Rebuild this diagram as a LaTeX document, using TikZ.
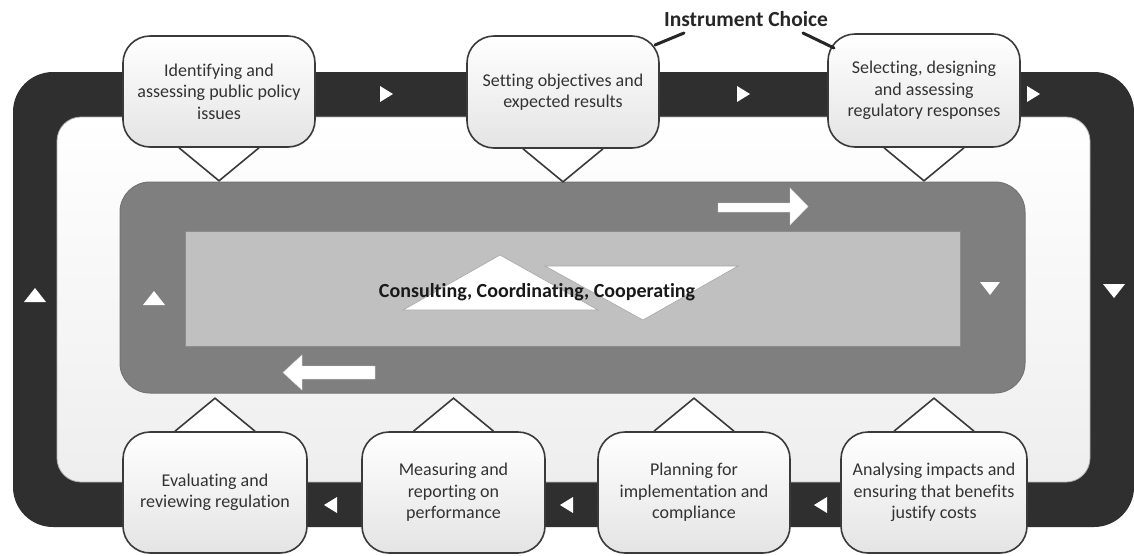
\documentclass[tikz,border=0pt]{standalone}
\usepackage{fontspec}
\setmainfont{Carlito}[Ligatures=NoCommon]
\usetikzlibrary{calc}
\definecolor{band}{HTML}{2F2F2F}
\definecolor{midgray}{HTML}{7F7F7F}
\definecolor{innergray}{HTML}{C0C0C0}
\definecolor{lightbot}{HTML}{EEEEEE}
\definecolor{boxbot}{HTML}{E4E4E4}
\definecolor{boxline}{HTML}{3A3A3A}
\definecolor{txt}{HTML}{333333}
\pgfdeclarelayer{bg}
\pgfdeclarelayer{mid}
\pgfsetlayers{bg,mid,main}
\begin{document}
\begin{tikzpicture}[x=1pt,y=-1pt,
  stepbox/.style={draw=boxline, line width=1.6pt, rounded corners=27pt,
    top color=white, bottom color=boxbot, text=txt, align=center,
    font=\fontsize{18}{21.5}\selectfont, inner sep=2pt},
  pointer/.style={fill=white},
  pointerline/.style={draw=boxline, line width=1.6pt, line join=miter},
  flowtip/.style={fill=white},
  bigarrow/.style={fill=white, draw=white!85!black, line width=0.4pt},
  centretri/.style={fill=white, draw=gray!70, line width=0.6pt},
  callout/.style={line width=3pt, black!85, line cap=round}]
\useasboundingbox (0,0) rectangle (1134,555);

% ---------------- boxes ----------------
\node[stepbox, minimum width=192pt, minimum height=111pt] (b1) at (219,91.5)
  {Identifying and\\assessing public policy\\issues};
\node[stepbox, minimum width=192pt, minimum height=112pt] (b2) at (563,92)
  {Setting objectives and\\expected results};
\node[stepbox, minimum width=192pt, minimum height=113pt] (b3) at (924,90.5)
  {Selecting, designing\\and assessing\\regulatory responses};
\node[stepbox, minimum width=186pt, minimum height=121pt] (b4) at (934,492.5)
  {Analysing impacts and\\ensuring that benefits\\justify costs};
\node[stepbox, minimum width=192pt, minimum height=121pt] (b5) at (694,492.5)
  {Planning for\\implementation and\\compliance};
\node[stepbox, minimum width=183pt, minimum height=121pt] (b6) at (453.5,492.5)
  {Measuring and\\reporting on\\performance};
\node[stepbox, minimum width=184pt, minimum height=121pt] (b7) at (215,492.5)
  {Evaluating and\\reviewing regulation};

\node[font=\fontsize{21.5}{24}\selectfont\bfseries, text=black!85, inner sep=0pt] (ic) at (746,19) {Instrument Choice};
\coordinate (icl) at (684,33);
\coordinate (icr) at (803,33);
\draw[callout] (icl) -- (655,45);
\draw[callout] (icr) -- (834,48);

% ---------------- background ----------------
\begin{pgfonlayer}{bg}
  \fill[band, rounded corners=40pt] (13,72) rectangle (1134,527);
  \filldraw[draw=gray!60, line width=0.8pt, top color=white, bottom color=lightbot, rounded corners=24pt]
    (57,117) rectangle (1090,482);
  \filldraw[draw=black!55, fill=midgray, line width=1pt, rounded corners=30pt]
    (120,182) rectangle (1025,393);
  \filldraw[draw=black!45, fill=innergray, line width=0.8pt]
    (185,231) rectangle (960,346);
  % centre triangles
  \filldraw[centretri] (403,310) -- (500,255) -- (598,310) -- cycle;
  \filldraw[centretri] (545,266) -- (738,266) -- (643,320) -- cycle;
  \node[font=\fontsize{20}{22}\selectfont\bfseries, text=black!90, inner sep=0pt] (ccc) at (537,292)
    {Consulting, Coordinating, Cooperating};
  % big white arrows
  \filldraw[bigarrow] (718,203) -- (790,203) -- (790,188) -- (808,206.5) -- (790,225) -- (790,212) -- (718,212) -- cycle;
  \filldraw[bigarrow] (375,366) -- (302,366) -- (302,355) -- (283,372.5) -- (302,390) -- (302,379) -- (375,379) -- cycle;
  % flow tips on the band
  \fill[flowtip] (380,86) -- (393,94) -- (380,102) -- cycle;
  \fill[flowtip] (737,86) -- (750,94) -- (737,102) -- cycle;
  \fill[flowtip] (1027,86) -- (1040,94) -- (1027,102) -- cycle;
  \fill[flowtip] (337,497) -- (324,505) -- (337,513) -- cycle;
  \fill[flowtip] (573,497) -- (560,505) -- (573,513) -- cycle;
  \fill[flowtip] (827,497) -- (814,505) -- (827,513) -- cycle;
  \fill[flowtip] (24,302) -- (35,288) -- (46,302) -- cycle;
  \fill[flowtip] (1103,284) -- (1114,298) -- (1125,284) -- cycle;
  \fill[flowtip] (143,305) -- (154,291) -- (165,305) -- cycle;
  \fill[flowtip] (980,282) -- (990,295) -- (1000,282) -- cycle;
\end{pgfonlayer}

% ---------------- pointers ----------------
\begin{pgfonlayer}{mid}
  \foreach \b in {b1,b2,b3}{
    \fill[pointer] (\b.south) ++(-40,-2) -- ++(0,2) -- ++(40,33) -- ++(40,-33) -- ++(0,-2) -- cycle;
    \draw[pointerline] (\b.south) ++(-40,0) -- ++(40,33) -- ++(40,-33);
  }
  \foreach \b in {b4,b5,b6,b7}{
    \fill[pointer] (\b.north) ++(-40,2) -- ++(0,-2) -- ++(40,-33) -- ++(40,33) -- ++(0,2) -- cycle;
    \draw[pointerline] (\b.north) ++(-40,0) -- ++(40,-33) -- ++(40,33);
  }
\end{pgfonlayer}
\end{tikzpicture}
\end{document}
